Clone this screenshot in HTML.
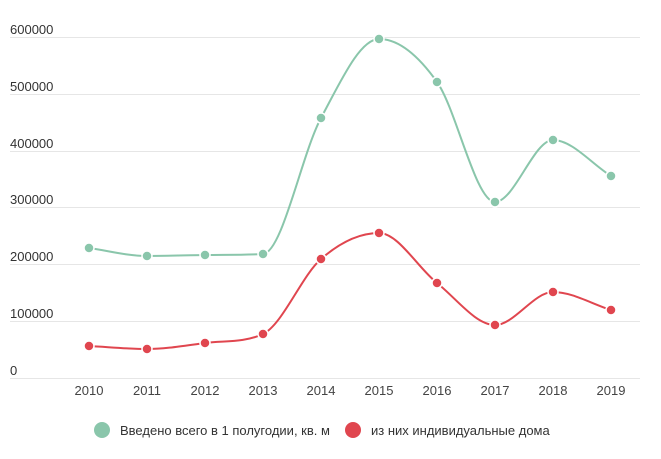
<!DOCTYPE html>
<html><head><meta charset="utf-8"><style>
body{margin:0;background:#fff;}
svg text{font-family:"Liberation Sans",sans-serif;}
</style></head><body>
<svg width="661" height="454" xmlns="http://www.w3.org/2000/svg">
<g stroke="#e6e6e6" stroke-width="1">
<line x1="10" x2="640" y1="37.5" y2="37.5"/>
<line x1="10" x2="640" y1="94.5" y2="94.5"/>
<line x1="10" x2="640" y1="151.5" y2="151.5"/>
<line x1="10" x2="640" y1="207.5" y2="207.5"/>
<line x1="10" x2="640" y1="264.5" y2="264.5"/>
<line x1="10" x2="640" y1="321.5" y2="321.5"/>
<line x1="10" x2="640" y1="378.5" y2="378.5"/>
</g>
<g font-size="13" fill="#333">
<text x="10" y="34">600000</text>
<text x="10" y="91">500000</text>
<text x="10" y="148">400000</text>
<text x="10" y="204">300000</text>
<text x="10" y="261">200000</text>
<text x="10" y="318">100000</text>
<text x="10" y="375">0</text>
</g>
<g font-size="13" fill="#444" text-anchor="middle">
<text x="89" y="395">2010</text><text x="147" y="395">2011</text><text x="205" y="395">2012</text><text x="263" y="395">2013</text><text x="321" y="395">2014</text><text x="379" y="395">2015</text><text x="437" y="395">2016</text><text x="495" y="395">2017</text><text x="553" y="395">2018</text><text x="611" y="395">2019</text>
</g>
<path fill="none" stroke="#8ac6ab" stroke-width="2" d="M89,248 C108.3,250.7 127.7,256 147,256 C166.3,256 185.7,255.3 205,255 C224.3,254.7 243.7,255 263,254 C282.3,253 301.7,153.8 321,118 C340.3,82.2 359.7,39 379,39 C398.3,39 417.7,54.8 437,82 C456.3,109.2 475.7,202 495,202 C514.3,202 533.7,140 553,140 C572.3,140 591.7,164 611,176"/>
<path fill="none" stroke="#e0464f" stroke-width="2" d="M89,346 C108.3,347 127.7,349 147,349 C166.3,349 185.7,345.5 205,343 C224.3,340.5 243.7,343 263,334 C282.3,325 301.7,275.8 321,259 C340.3,242.2 359.7,233 379,233 C398.3,233 417.7,267.7 437,283 C456.3,298.3 475.7,325 495,325 C514.3,325 533.7,292 553,292 C572.3,292 591.7,304 611,310"/>
<g fill="#8ac6ab" stroke="#fff" stroke-width="1.5">
<circle cx="89" cy="248" r="5"/><circle cx="147" cy="256" r="5"/><circle cx="205" cy="255" r="5"/><circle cx="263" cy="254" r="5"/><circle cx="321" cy="118" r="5"/><circle cx="379" cy="39" r="5"/><circle cx="437" cy="82" r="5"/><circle cx="495" cy="202" r="5"/><circle cx="553" cy="140" r="5"/><circle cx="611" cy="176" r="5"/>
</g>
<g fill="#e0464f" stroke="#fff" stroke-width="1.5">
<circle cx="89" cy="346" r="5"/><circle cx="147" cy="349" r="5"/><circle cx="205" cy="343" r="5"/><circle cx="263" cy="334" r="5"/><circle cx="321" cy="259" r="5"/><circle cx="379" cy="233" r="5"/><circle cx="437" cy="283" r="5"/><circle cx="495" cy="325" r="5"/><circle cx="553" cy="292" r="5"/><circle cx="611" cy="310" r="5"/>
</g>
<circle cx="102" cy="430" r="8" fill="#8ac6ab"/>
<text x="120" y="435" font-size="13" fill="#333">Введено всего в 1 полугодии, кв. м</text>
<circle cx="353" cy="430" r="8" fill="#e0464f"/>
<text x="371" y="435" font-size="13" fill="#333">из них индивидуальные дома</text>
</svg>
</body></html>
